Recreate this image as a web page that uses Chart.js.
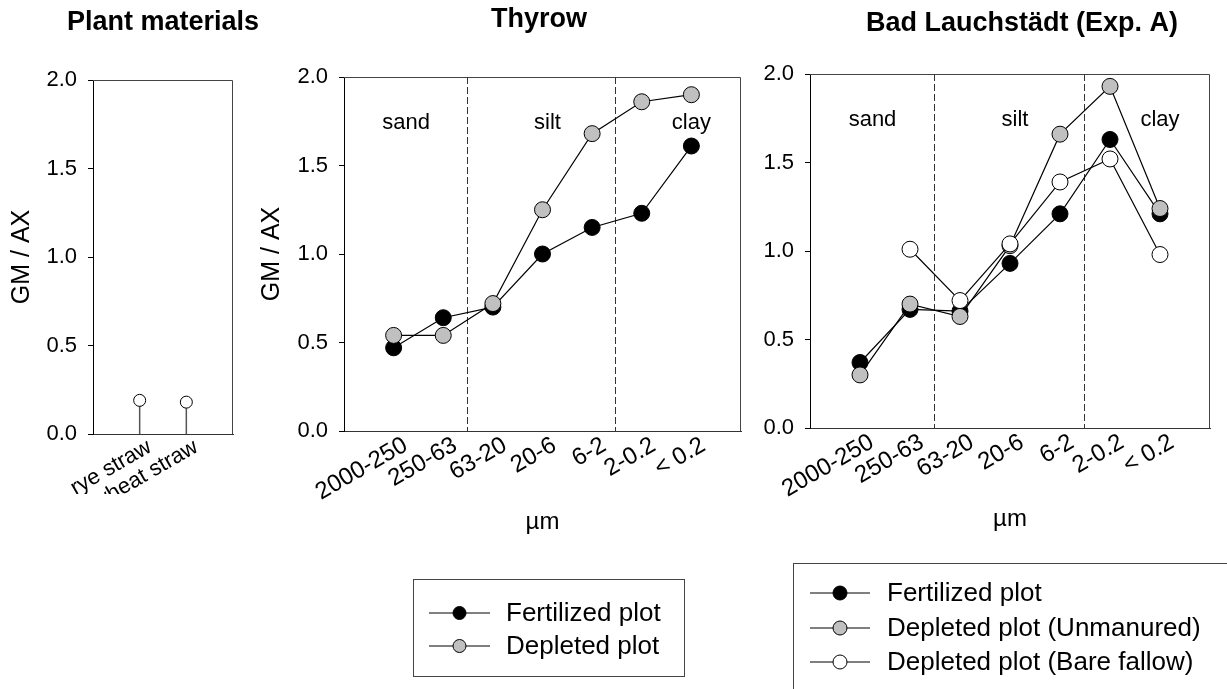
<!DOCTYPE html>
<html>
<head>
<meta charset="utf-8">
<script src="https://cdn.jsdelivr.net/npm/chart.js@4.4.1/dist/chart.umd.min.js"></script>
<style>
  body { margin: 0; background: #fff; width: 1227px; height: 689px; overflow: hidden; position: relative; }
  canvas { position: absolute; top: 0; }
</style>
</head>
<body>
<canvas id="plant" width="260" height="689" style="left:0px"></canvas>
<canvas id="thyrow" width="500" height="689" style="left:250px"></canvas>
<canvas id="lauch" width="487" height="689" style="left:740px"></canvas>
<script>
// --- data ---
const plantLabels = ['rye straw', 'wheat straw'];
const plantValues = [0.19, 0.18];

const sizeClasses = ['2000-250', '250-63', '63-20', '20-6', '6-2', '2-0.2', '< 0.2'];
const thyrowFertilized = [0.47, 0.64, 0.70, 1.00, 1.15, 1.23, 1.61];
const thyrowDepleted = [0.54, 0.54, 0.72, 1.25, 1.68, 1.86, 1.90];

const lauchFertilized = [0.37, 0.67, 0.66, 0.93, 1.21, 1.63, 1.21];
const lauchUnmanured = [0.30, 0.70, 0.63, 1.03, 1.66, 1.93, 1.24];
const lauchBareFallow = [null, 1.01, 0.72, 1.04, 1.39, 1.52, 0.98];

const yTicks = [0, 0.5, 1.0, 1.5, 2.0];
const zoneNames = ['sand', 'silt', 'clay'];
const zoneCentres = [0.25, 3.1, 6.0];   // class index units
const zoneLabelY = 1.74;
const zoneBounds = [1.47, 4.47];

Chart.defaults.font.family = '"Liberation Sans", Arial, sans-serif';
Chart.defaults.color = '#000';
Chart.defaults.animation = false;

const toXY = arr => arr.map((v, i) => ({ x: i, y: v }));

// frame, stems, dashed boundaries, zone names, panel title, boxed legend
const decor = {
  id: 'decor',
  beforeDatasetsDraw(chart, args, o) {
    const { ctx, chartArea: a, scales } = chart;
    ctx.save();
    ctx.strokeStyle = '#444';
    ctx.lineWidth = 1;
    ctx.beginPath();
    ctx.moveTo(a.left, a.top + 0.5);
    ctx.lineTo(a.right - 0.5, a.top + 0.5);
    ctx.lineTo(a.right - 0.5, a.bottom);
    ctx.stroke();
    if (o.stems) {
      const y0 = scales.y.getPixelForValue(0);
      ctx.strokeStyle = '#555';
      ctx.lineWidth = 1.5;
      chart.getDatasetMeta(0).data.forEach(pt => {
        ctx.beginPath();
        ctx.moveTo(pt.x, y0);
        ctx.lineTo(pt.x, pt.y);
        ctx.stroke();
      });
    }
    if (o.bounds) {
      ctx.setLineDash([7, 3]);
      ctx.strokeStyle = '#333';
      ctx.lineWidth = 1;
      o.bounds.forEach(b => {
        const x = Math.round(scales.x.getPixelForValue(b)) + 0.5;
        ctx.beginPath();
        ctx.moveTo(x, a.top);
        ctx.lineTo(x, a.bottom);
        ctx.stroke();
      });
    }
    ctx.restore();
  },
  afterDraw(chart, args, o) {
    const { ctx, scales } = chart;
    const dx = o.left;
    ctx.save();
    ctx.fillStyle = '#000';
    ctx.textAlign = 'center';
    ctx.textBaseline = 'middle';
    ctx.font = 'bold 27px "Liberation Sans", Arial, sans-serif';
    ctx.fillText(o.title, o.titleX - dx, o.titleY);
    if (o.zones) {
      ctx.font = '22px "Liberation Sans", Arial, sans-serif';
      zoneNames.forEach((n, i) => {
        ctx.fillText(n, scales.x.getPixelForValue(zoneCentres[i]), scales.y.getPixelForValue(zoneLabelY));
      });
    }
    if (o.legend) {
      const L = o.legend;
      ctx.strokeStyle = '#444';
      ctx.lineWidth = 1;
      ctx.strokeRect(L.x - dx + 0.5, L.y + 0.5, L.w, L.h);
      ctx.font = '26px "Liberation Sans", Arial, sans-serif';
      ctx.textAlign = 'left';
      chart.data.datasets.forEach((ds, i) => {
        const y = L.rows[i];
        ctx.strokeStyle = '#000';
        ctx.beginPath();
        ctx.moveTo(L.x0 - dx, y);
        ctx.lineTo(L.x1 - dx, y);
        ctx.stroke();
        ctx.beginPath();
        ctx.arc((L.x0 + L.x1) / 2 - dx, y, L.r, 0, Math.PI * 2);
        ctx.fillStyle = ds.pointBackgroundColor;
        ctx.fill();
        ctx.stroke();
        ctx.fillStyle = '#000';
        ctx.fillText(ds.label, L.tx - dx, y + 1);
      });
    }
    ctx.restore();
  }
};

function yScale(width, title) {
  return {
    type: 'linear', min: yTicks[0], max: yTicks[yTicks.length - 1],
    afterBuildTicks: s => { s.ticks = yTicks.map(v => ({ value: v })); },
    afterFit: s => { s.width = width; },
    ticks: { font: { size: 22 }, padding: 11, callback: v => v.toFixed(1) },
    grid: { display: true, drawOnChartArea: false, drawTicks: true, tickLength: 5, color: '#000' },
    border: { display: true, color: '#000' },
    title: { display: !!title, text: title, font: { size: 25 }, padding: { top: 7, bottom: 0 } }
  };
}

function classScale(height, title) {
  return {
    type: 'linear', min: -1, max: sizeClasses.length,
    afterBuildTicks: s => { s.ticks = sizeClasses.map((c, i) => ({ value: i })); },
    afterFit: s => { s.height = height; },
    ticks: { font: { size: 24 }, minRotation: 30, maxRotation: 30, padding: -8, labelOffset: 12,
      autoSkip: false, callback: v => sizeClasses[v] },
    grid: { display: false },
    border: { display: true, color: '#333' },
    title: { display: true, text: title, font: { size: 24 }, padding: { top: 0, bottom: 0 } }
  };
}

function seriesLine(label, values, fill, order) {
  return {
    label, data: toXY(values), order,
    borderColor: '#000', borderWidth: 1.2,
    pointRadius: 8, pointBorderWidth: 1, pointBorderColor: '#000',
    pointBackgroundColor: fill, spanGaps: false
  };
}

// Plant materials: open circles on stems
new Chart(document.getElementById('plant'), {
  type: 'scatter',
  data: {
    datasets: [
      { label: 'straw', data: plantValues.map((v, i) => ({ x: i + 1, y: v })),
        pointRadius: 6, pointBorderWidth: 1, pointBorderColor: '#000', pointBackgroundColor: '#fff' }
    ]
  },
  options: {
    responsive: false,
    layout: { padding: { top: 80, left: 0, right: 27, bottom: 195 } },
    plugins: { legend: { display: false }, tooltip: { enabled: false },
      decor: { left: 0, title: 'Plant materials', titleX: 163, titleY: 23, stems: true } },
    scales: {
      x: {
        type: 'linear', min: 0, max: plantLabels.length + 1,
        afterBuildTicks: s => { s.ticks = plantLabels.map((c, i) => ({ value: i + 1 })); },
        afterFit: s => { s.height = 60; },
        ticks: { font: { size: 22 }, minRotation: 30, maxRotation: 30, padding: -8, labelOffset: 10,
          autoSkip: false, callback: v => plantLabels[v - 1] },
        grid: { display: false },
        border: { display: true, color: '#333' }
      },
      y: yScale(93, 'GM / AX')
    }
  },
  plugins: [decor]
});

new Chart(document.getElementById('thyrow'), {
  type: 'line',
  data: {
    datasets: [
      seriesLine('Fertilized plot', thyrowFertilized, '#000', 2),
      seriesLine('Depleted plot', thyrowDepleted, '#c0c0c0', 1)
    ]
  },
  options: {
    responsive: false,
    layout: { padding: { top: 77, left: 0, right: 6, bottom: 152 } },
    plugins: { legend: { display: false }, tooltip: { enabled: false },
      decor: { left: 250, title: 'Thyrow', titleX: 539, titleY: 20, zones: true, bounds: zoneBounds,
        legend: { x: 413, y: 579, w: 271, h: 97, x0: 429, x1: 490, r: 6.5, tx: 506, rows: [613, 646] } } },
    scales: { x: classScale(106, 'µm'), y: yScale(94, 'GM / AX') }
  },
  plugins: [decor]
});

new Chart(document.getElementById('lauch'), {
  type: 'line',
  data: {
    datasets: [
      seriesLine('Fertilized plot', lauchFertilized, '#000', 3),
      seriesLine('Depleted plot (Unmanured)', lauchUnmanured, '#c0c0c0', 2),
      seriesLine('Depleted plot (Bare fallow)', lauchBareFallow, '#fff', 1)
    ]
  },
  options: {
    responsive: false,
    layout: { padding: { top: 74, left: 0, right: 17, bottom: 155 } },
    plugins: { legend: { display: false }, tooltip: { enabled: false },
      decor: { left: 740, title: 'Bad Lauchstädt (Exp. A)', titleX: 1022, titleY: 24, zones: true, bounds: zoneBounds,
        legend: { x: 793, y: 563, w: 500, h: 200, x0: 810, x1: 870, r: 7, tx: 887, rows: [593, 628, 662] } } },
    scales: { x: classScale(106, 'µm'), y: yScale(70, '') }
  },
  plugins: [decor]
});
</script>
</body>
</html>
